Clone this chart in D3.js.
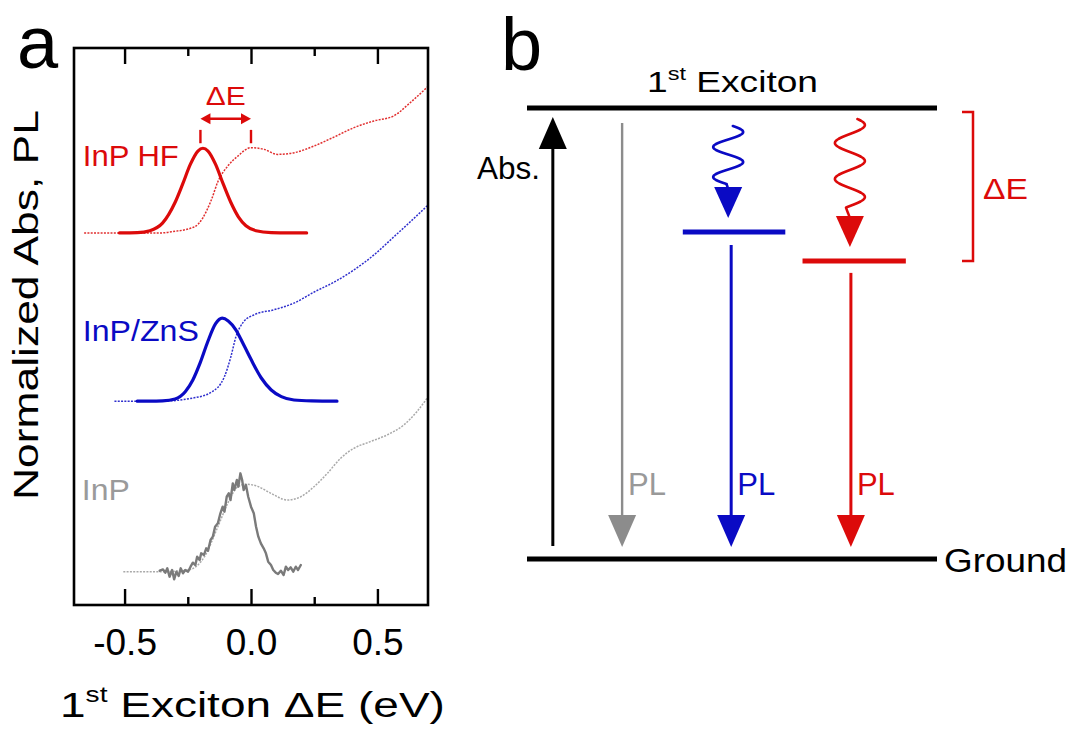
<!DOCTYPE html>
<html>
<head>
<meta charset="utf-8">
<script src="https://cdn.jsdelivr.net/npm/d3@7"></script>
<style>
  html, body { margin: 0; background: #fff; }
  svg { display: block; }
</style>
</head>
<body>
<svg id="fig" width="1071" height="730"></svg>
<script>
// ---------- Panel a: absorption (dotted) and PL (solid) spectra, offset vertically ----------
const xMajorTicks = [-0.5, 0, 0.5];
const xMinorTicks = [-0.25, 0.25];
const xTickLabels = ["-0.5", "0.0", "0.5"];

// InP HF
const hfAbsE = [-0.66, -0.51, -0.354, -0.315, -0.223, -0.157, -0.131, -0.092, -0.052, 0.0, 0.052, 0.105, 0.171, 0.249, 0.328, 0.407, 0.486, 0.564, 0.63, 0.70];
const hfAbsY = [6.68, 6.68, 6.68, 6.70, 6.79, 7.27, 7.60, 7.88, 8.06, 8.21, 8.18, 8.09, 8.12, 8.24, 8.40, 8.57, 8.69, 8.78, 9.02, 9.31];
const hfPlE  = [-0.52, -0.45, -0.40, -0.35, -0.30, -0.27, -0.24, -0.21, -0.19, -0.17, -0.14, -0.11, -0.08, -0.05, -0.02, 0.02, 0.08, 0.15, 0.22];
const hfPlY  = [6.68, 6.685, 6.72, 6.855, 7.23, 7.56, 7.91, 8.15, 8.20, 8.15, 7.91, 7.56, 7.23, 6.97, 6.81, 6.72, 6.685, 6.68, 6.68];

// InP/ZnS
const znsAbsE = [-0.54, -0.355, -0.225, -0.157, -0.106, -0.08, -0.06, -0.03, 0.012, 0.09, 0.17, 0.25, 0.33, 0.405, 0.485, 0.565, 0.63, 0.70];
const znsAbsY = [3.66, 3.66, 3.72, 3.82, 4.09, 4.45, 4.81, 5.08, 5.21, 5.30, 5.42, 5.62, 5.80, 6.01, 6.28, 6.61, 6.88, 7.18];
const znsPlE  = [-0.45, -0.40, -0.35, -0.30, -0.26, -0.23, -0.20, -0.17, -0.14, -0.114, -0.09, -0.06, -0.03, 0.0, 0.04, 0.08, 0.12, 0.17, 0.24, 0.34];
const znsPlY  = [3.66, 3.66, 3.665, 3.70, 3.83, 4.04, 4.36, 4.74, 5.05, 5.15, 5.10, 4.94, 4.68, 4.41, 4.08, 3.86, 3.74, 3.68, 3.665, 3.66];

// InP core
const inpAbsE = [-0.505, -0.354, -0.249, -0.184, -0.131, -0.092, -0.052, -0.020, 0.026, 0.079, 0.144, 0.197, 0.249, 0.302, 0.354, 0.407, 0.472, 0.538, 0.604, 0.656, 0.696];
const inpAbsY = [0.598, 0.598, 0.628, 0.868, 1.406, 1.825, 2.124, 2.17, 2.13, 2.005, 1.885, 1.944, 2.124, 2.364, 2.633, 2.813, 2.933, 3.053, 3.232, 3.471, 3.71];
const inpPlE = [-0.361, -0.348, -0.339, -0.331, -0.322, -0.312, -0.304, -0.295, -0.286, -0.278, -0.269, -0.260, -0.249, -0.239, -0.230, -0.220, -0.213, -0.203, -0.197, -0.186, -0.177, -0.170, -0.160, -0.151, -0.142, -0.131, -0.121, -0.112, -0.105, -0.096, -0.088, -0.081, -0.072, -0.066, -0.056, -0.050, -0.042, -0.035, -0.029, -0.020, -0.011, 0.000, 0.011, 0.020, 0.029, 0.039, 0.050, 0.059, 0.068, 0.079, 0.088, 0.098, 0.107, 0.118, 0.129, 0.138, 0.147, 0.157, 0.167, 0.177, 0.186, 0.197];
const inpPlY = [0.616, 0.640, 0.580, 0.658, 0.508, 0.628, 0.461, 0.598, 0.521, 0.658, 0.569, 0.628, 0.598, 0.688, 0.760, 0.718, 0.868, 0.808, 0.928, 0.898, 1.018, 0.975, 1.167, 1.227, 1.406, 1.466, 1.646, 1.765, 1.675, 1.944, 2.005, 1.885, 2.184, 2.065, 2.244, 2.124, 2.364, 2.244, 2.065, 2.154, 1.944, 1.765, 1.646, 1.406, 1.227, 1.107, 1.018, 0.928, 0.778, 0.718, 0.628, 0.580, 0.556, 0.616, 0.539, 0.688, 0.628, 0.677, 0.598, 0.688, 0.628, 0.718];

// Sample labels: name, anchor energy, anchor height, drawn width
const sampleNames = ["InP HF", "InP/ZnS", "InP"];
const sampleLabelE = [-0.665, -0.665, -0.669];
const sampleLabelY = [7.88, 4.74, 1.885];
const sampleLabelW = [96, 116, 48];

// Stokes-shift marker between the InP HF PL peak and absorption peak
const shiftFrom = -0.2, shiftTo = 0.0, shiftLevel = 8.73;

// ---------- Panel b: energy-level diagram ----------
const levelE   = [1, 0, 0.725, 0.661];        // exciton, ground, ZnS-shell state, HF state
const levelX0  = [0, 0, 0.38, 0.672];
const levelX1  = [1, 1, 0.63, 0.924];
const levelKey = ["black", "black", "blue", "red"];
const columnX  = { abs: 0.063, inp: 0.232, zns: 0.498, hf: 0.79 };

const COLORS = { red: "#dc0a0a", blue: "#0a0ac4", gray: "#8a8a8a", black: "#000" };
const SANS = "'Liberation Sans', Arial, Helvetica, sans-serif";

const svg = d3.select("#fig");

// Helper: text stretched horizontally to a target width (anchored at its start)
function fitText(parent, tx, ty, target, build, rotate) {
  const g = parent.append("g");
  const t = g.append("text").attr("x", 0).attr("y", 0).attr("font-family", SANS);
  build(t);
  const w = t.node().getBBox().width;
  const s = target ? target / w : 1;
  g.attr("transform", `translate(${tx},${ty})` + (rotate ? ` rotate(${rotate})` : "") + ` scale(${s},1)`);
  return t;
}

// ----- panel a -----
const x = d3.scaleLinear().domain([-0.7, 0.7]).range([74, 428]);
const y = d3.scaleLinear().domain([0, 10]).range([605, 48]);

const pa = svg.append("g");

const smooth = d3.line().x(d => x(d[0])).y(d => y(d[1])).curve(d3.curveMonotoneX);
const jagged = d3.line().x(d => x(d[0])).y(d => y(d[1])).curve(d3.curveLinear);
const zip = (a, b) => a.map((v, i) => [v, b[i]]);

function absCurve(E, Y, color) {
  pa.append("path").attr("d", smooth(zip(E, Y)))
    .attr("fill", "none").attr("stroke", color)
    .attr("stroke-width", 1.5).attr("stroke-dasharray", "2 1.3").attr("opacity", 0.85);
}
function plCurve(E, Y, color, line, w) {
  pa.append("path").attr("d", line(zip(E, Y)))
    .attr("fill", "none").attr("stroke", color)
    .attr("stroke-width", w).attr("stroke-linejoin", "round").attr("stroke-linecap", "round");
}

absCurve(hfAbsE, hfAbsY, COLORS.red);
plCurve(hfPlE, hfPlY, COLORS.red, smooth, 3.2);
absCurve(znsAbsE, znsAbsY, COLORS.blue);
plCurve(znsPlE, znsPlY, COLORS.blue, smooth, 3.2);
absCurve(inpAbsE, inpAbsY, "#9a9a9a");
plCurve(inpPlE, inpPlY, "#7a7a7a", jagged, 2.4);

// frame
pa.append("rect").attr("x", x(-0.7)).attr("y", y(10))
  .attr("width", x(0.7) - x(-0.7)).attr("height", y(0) - y(10))
  .attr("fill", "none").attr("stroke", "#000").attr("stroke-width", 2.6);

// ticks, pointing inward on bottom and top
function styleAxis(g) {
  g.select(".domain").remove();
  g.selectAll(".tick line").attr("stroke", "#000").attr("stroke-width", 2.4);
}
pa.append("g").attr("transform", `translate(0,${y(0)})`)
  .call(d3.axisBottom(x).tickValues(xMajorTicks).tickSizeInner(-16).tickSizeOuter(0)
    .tickPadding(24).tickFormat((d, i) => xTickLabels[i]))
  .call(styleAxis)
  .call(g => g.selectAll(".tick text").attr("font-family", SANS).attr("font-size", 37).attr("fill", "#000"));
pa.append("g").attr("transform", `translate(0,${y(0)})`)
  .call(d3.axisBottom(x).tickValues(xMinorTicks).tickSizeInner(-8).tickSizeOuter(0).tickFormat(""))
  .call(styleAxis);
pa.append("g").attr("transform", `translate(0,${y(10)})`)
  .call(d3.axisTop(x).tickValues(xMajorTicks).tickSizeInner(-16).tickSizeOuter(0).tickFormat(""))
  .call(styleAxis);
pa.append("g").attr("transform", `translate(0,${y(10)})`)
  .call(d3.axisTop(x).tickValues(xMinorTicks).tickSizeInner(-8).tickSizeOuter(0).tickFormat(""))
  .call(styleAxis);

// axis titles
fitText(svg, 60, 717, 385, t => {
  t.attr("font-size", 36).attr("fill", "#000");
  t.append("tspan").text("1");
  t.append("tspan").attr("font-size", 22).attr("dy", -15).text("st");
  t.append("tspan").attr("dy", 15).text(" Exciton \u0394E (eV)");
});
fitText(svg, 38, 500, 390, t => {
  t.attr("font-size", 35).attr("fill", "#000").text("Normalized Abs, PL");
}, -90);

// sample labels
const labelColor = [COLORS.red, COLORS.blue, "#9a9a9a"];
sampleNames.forEach((name, i) => {
  fitText(pa, x(sampleLabelE[i]), y(sampleLabelY[i]), sampleLabelW[i], t => {
    t.attr("font-size", 30).attr("fill", labelColor[i]).text(name);
  });
});

// Stokes shift marker
const mk = pa.append("g").attr("stroke", COLORS.red).attr("fill", COLORS.red);
[shiftFrom, shiftTo].forEach(e => {
  mk.append("line").attr("x1", x(e)).attr("x2", x(e))
    .attr("y1", y(shiftLevel - 0.2)).attr("y2", y(shiftLevel - 0.44)).attr("stroke-width", 2.4);
});
mk.append("line").attr("x1", x(shiftFrom) + 6).attr("x2", x(shiftTo) - 6)
  .attr("y1", y(shiftLevel)).attr("y2", y(shiftLevel)).attr("stroke-width", 2.6);
[[shiftFrom, 1], [shiftTo, -1]].forEach(([e, dir]) => {
  const px = x(e), py = y(shiftLevel);
  mk.append("path").attr("stroke", "none")
    .attr("d", `M${px},${py} L${px + dir * 10},${py - 5.5} L${px + dir * 10},${py + 5.5} Z`);
});
fitText(pa, x((shiftFrom + shiftTo) / 2) - 20, y(8.98), 40, t => {
  t.attr("font-size", 26).attr("fill", COLORS.red).text("\u0394E");
});

// panel letters
svg.append("text").attr("x", 17).attr("y", 68)
  .attr("font-family", SANS).attr("font-size", 74).text("a");
svg.append("text").attr("x", 501).attr("y", 70)
  .attr("font-family", SANS).attr("font-size", 74).text("b");

// ----- panel b -----
const bx = d3.scaleLinear().domain([0, 1]).range([527, 937]);
const by = d3.scaleLinear().domain([0, 1]).range([559, 108]);
const pb = svg.append("g");

levelE.forEach((e, i) => {
  pb.append("line").attr("x1", bx(levelX0[i])).attr("x2", bx(levelX1[i]))
    .attr("y1", by(e)).attr("y2", by(e))
    .attr("stroke", COLORS[levelKey[i]]).attr("stroke-width", 5);
});

function arrowHead(cx, baseY, tipY, color, hw) {
  pb.append("path").attr("fill", color)
    .attr("d", `M${cx - hw},${baseY} L${cx + hw},${baseY} L${cx},${tipY} Z`);
}
function straightArrow(cx, y0, tipY, color, w) {
  const dir = tipY > y0 ? 1 : -1;
  const baseY = tipY - dir * 32;
  pb.append("line").attr("x1", cx).attr("x2", cx).attr("y1", y0).attr("y2", baseY)
    .attr("stroke", color).attr("stroke-width", w);
  arrowHead(cx, baseY, tipY, color, 14);
}
// wavy non-radiative relaxation arrow
function wavyArrow(cx, y0, yEnd, tipY, period, color) {
  const pts = [];
  for (let yy = y0; yy <= yEnd; yy += 0.5) {
    pts.push([cx + 15 * Math.cos(2 * Math.PI * (yy - (y0 + 6)) / period), yy]);
  }
  pb.append("path").attr("d", d3.line().curve(d3.curveBasis)(pts))
    .attr("fill", "none").attr("stroke", color).attr("stroke-width", 2.6).attr("stroke-linecap", "round");
  const baseY = tipY - 31;
  pb.append("line").attr("x1", pts[pts.length - 1][0]).attr("y1", yEnd)
    .attr("x2", cx).attr("y2", baseY + 2).attr("stroke", color).attr("stroke-width", 2.6);
  arrowHead(cx, baseY, tipY, color, 14);
}

// absorption: ground -> exciton
straightArrow(bx(columnX.abs), by(0) - 13, by(1) + 9, "#000", 3);
// PL of InP: exciton -> ground
straightArrow(bx(columnX.inp), by(1) + 15, by(0) - 12, "#8c8c8c", 2.4);
// InP/ZnS: relax to its emitting state, then PL
wavyArrow(bx(columnX.zns) - 3, by(1) + 18, by(levelE[2]) - 48, by(levelE[2]) - 14, 30, COLORS.blue);
straightArrow(bx(columnX.zns), by(levelE[2]) + 13, by(0) - 12, COLORS.blue, 3);
// InP HF: relax further, then PL
wavyArrow(bx(columnX.hf) - 1, by(1) + 11, by(levelE[3]) - 53, by(levelE[3]) - 14, 36, COLORS.red);
straightArrow(bx(columnX.hf), by(levelE[3]) + 12, by(0) - 12, COLORS.red, 3);

// energy-gap bracket
pb.append("path")
  .attr("d", `M962,${by(1) + 4} H973 V${by(levelE[3])} H962`)
  .attr("fill", "none").attr("stroke", COLORS.red).attr("stroke-width", 2.5);

// panel b texts
fitText(svg, 647, 92, 171, t => {
  t.attr("font-size", 30).attr("fill", "#000");
  t.append("tspan").text("1");
  t.append("tspan").attr("font-size", 19).attr("dy", -12).text("st");
  t.append("tspan").attr("dy", 12).text(" Exciton");
});
fitText(svg, 944, 572, 123, t => t.attr("font-size", 34).attr("fill", "#000").text("Ground"));
fitText(svg, 477, 179, 63, t => t.attr("font-size", 31).attr("fill", "#000").text("Abs."));
fitText(svg, 983, 199, 45, t => t.attr("font-size", 30).attr("fill", COLORS.red).text("\u0394E"));
[["inp", "#999"], ["zns", COLORS.blue], ["hf", COLORS.red]].forEach(([k, c]) => {
  fitText(svg, bx(columnX[k]) + 6, 495, 38, t => t.attr("font-size", 31).attr("fill", c).text("PL"));
});
</script>
</body>
</html>
